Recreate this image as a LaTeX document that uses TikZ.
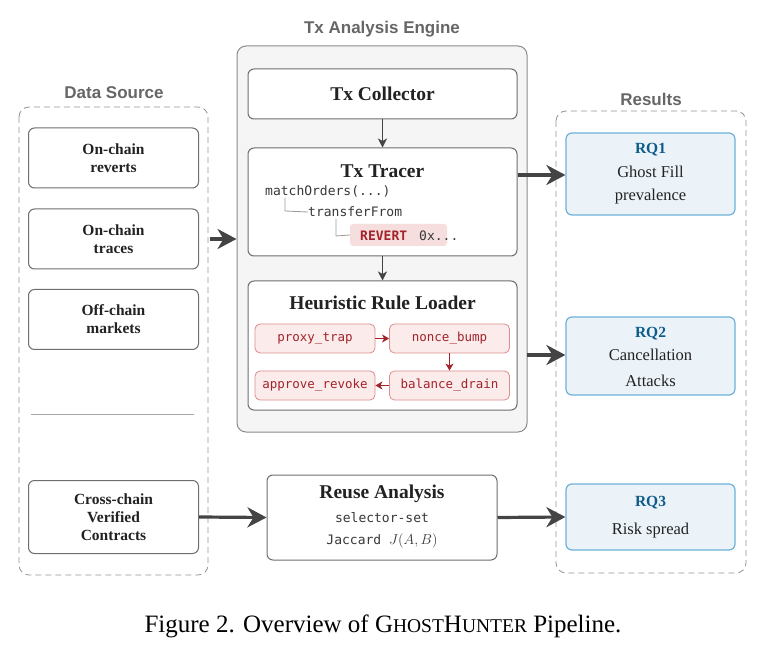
\documentclass[tikz,border=0pt]{standalone}
\usepackage{fontspec}
\setmainfont{Liberation Serif}
\setsansfont{Liberation Sans}
\setmonofont{DejaVu Sans Mono}
\usetikzlibrary{arrows.meta}
\definecolor{boxgray}{HTML}{6E6E6E}
\definecolor{titlegray}{HTML}{666666}
\definecolor{enginefill}{HTML}{F5F5F5}
\definecolor{rulefill}{HTML}{FBEBEB}
\definecolor{ruledraw}{HTML}{DE8C8C}
\definecolor{ruletext}{HTML}{A3232A}
\definecolor{revfill}{HTML}{F6DEDE}
\definecolor{rqfill}{HTML}{EBF3F8}
\definecolor{rqdraw}{HTML}{6DB1D9}
\definecolor{rqblue}{HTML}{0F5C8C}
\definecolor{arrowgray}{HTML}{444444}
\definecolor{darktext}{HTML}{222222}
\begin{document}
\begin{tikzpicture}[x=1pt,y=-1pt,
  box/.style={draw=boxgray, rounded corners=6pt, line width=1pt, fill=white, align=center, inner sep=0pt, text=darktext},
  srcbox/.style={box, minimum width=170pt, minimum height=60pt, font=\fontsize{15.5}{18}\selectfont\bfseries},
  grouptitle/.style={font=\fontsize{17}{20}\sffamily\bfseries, text=titlegray},
  groupbox/.style={draw=titlegray!70, dashed, dash pattern=on 6pt off 4pt, rounded corners=10pt, line width=0.8pt},
  rule/.style={draw=ruledraw, fill=rulefill, rounded corners=5pt, line width=0.8pt, minimum width=120pt, minimum height=29pt, inner sep=0pt, text=ruletext, font=\fontsize{12.5}{14}\ttfamily},
  rq/.style={draw=rqdraw, fill=rqfill, rounded corners=6pt, line width=1.2pt, minimum width=169pt, inner sep=0pt, align=center, text=darktext},
  bigarrow/.style={draw=arrowgray, line width=3.2pt, -{Stealth[length=19pt,width=20pt,inset=6pt]}},
  smallarrow/.style={draw=arrowgray, line width=1.4pt, -{Stealth[length=9pt,width=9pt,inset=2.5pt]}},
  rulearrow/.style={draw=ruletext, line width=1.2pt, -{Stealth[length=7pt,width=8pt,inset=2pt]}},
  treeline/.style={draw=gray!80, line width=0.8pt},
  mono/.style={font=\fontsize{13}{15}\ttfamily, text=darktext!90, inner sep=0pt}
]
\useasboundingbox (0,0) rectangle (766,652);

% ---------- Data Source ----------
\node[grouptitle] (dstitle) at (114,93) {Data Source};
\draw[groupbox] (19,107) rectangle (208,575);
\node[srcbox] (reverts) at (113.5,158) {On-chain\\reverts};
\node[srcbox] (traces) at (113.5,239) {On-chain\\traces};
\node[srcbox] (markets) at (113.5,319.5) {Off-chain\\markets};
\coordinate (sepL) at (31,414);
\coordinate (sepR) at (194,414);
\draw[line width=0.8pt, draw=gray!70] (sepL) -- (sepR);
\node[srcbox, minimum height=73pt] (cross) at (113.5,517) {Cross-chain\\Verified\\Contracts};

% ---------- Engine ----------
\node[grouptitle] (engtitle) at (382,29) {Tx Analysis Engine};
\node[draw=boxgray!80, fill=enginefill, rounded corners=9pt, line width=1pt, minimum width=290pt, minimum height=386pt, inner sep=0pt] (engine) at (382,239) {};

\node[box, minimum width=269pt, minimum height=50pt, font=\fontsize{19.5}{22}\selectfont\bfseries] (collector) at (382.5,94) {Tx Collector};

\node[box, minimum width=269pt, minimum height=108pt] (tracer) at (382.5,202) {};
\node[font=\fontsize{19.5}{22}\selectfont\bfseries, text=darktext, inner sep=0pt] (tracertitle) at (382.5,171) {Tx Tracer};
\node[mono, anchor=west] (match) at (265,191) {matchOrders(...)};
\node[mono, anchor=west] (transfer) at (308,212) {transferFrom};
\node[fill=revfill, rounded corners=3pt, minimum width=97pt, minimum height=22pt, inner sep=0pt] (revbox) at (398.5,235) {};
\node[anchor=west, inner sep=0pt, font=\fontsize{13}{15}\ttfamily\bfseries, text=ruletext] (revert) at (360,236) {REVERT};
\node[mono, anchor=west] (hex) at (419,236) {0x...};
\coordinate (t1a) at (285,198);
\coordinate (t1b) at (285,211);
\coordinate (t2a) at (336,219);
\coordinate (t2b) at (336,236);
\draw[treeline] (t1a) -- (t1b) -- (transfer.west);
\draw[treeline] (t2a) -- (t2b) -- (revbox.west);

\node[box, minimum width=269pt, minimum height=129pt] (loader) at (382.5,345.5) {};
\node[font=\fontsize{19.5}{22}\selectfont\bfseries, text=darktext, inner sep=0pt] (loadertitle) at (382.5,303) {Heuristic Rule Loader};
\node[rule] (proxy) at (315,338.5) {proxy\_trap};
\node[rule] (nonce) at (449.5,338.5) {nonce\_bump};
\node[rule] (approve) at (315,385.5) {approve\_revoke};
\node[rule] (balance) at (449.5,385.5) {balance\_drain};
\draw[rulearrow] (proxy) -- (nonce);
\draw[rulearrow] (nonce) -- (balance);
\draw[rulearrow] (balance) -- (approve);

\draw[smallarrow] (collector) -- (tracer);
\draw[smallarrow] (tracer) -- (loader);

% ---------- Reuse ----------
\node[box, minimum width=230pt, minimum height=85pt] (reuse) at (382,517.5) {};
\node[font=\fontsize{19.5}{22}\selectfont\bfseries, text=darktext, inner sep=0pt] (reusetitle) at (382,494) {Reuse Analysis};
\node[mono] (selector) at (382,518) {selector-set};
\node[mono] (jaccard) at (382,541) {Jaccard \fontsize{15.5}{17}\selectfont$J(A,B)$};

% ---------- Results ----------
\node[grouptitle] (restitle) at (651,99) {Results};
\draw[groupbox] (556,111) rectangle (746,573);
\node[rq, minimum height=82pt] (rq1) at (650.5,174) {};
\node[font=\fontsize{15.5}{17}\selectfont\bfseries, text=rqblue, inner sep=0pt] (rq1t) at (650.5,150) {RQ1};
\node[font=\fontsize{16.5}{18}\selectfont, text=darktext, inner sep=0pt] (rq1a) at (650.5,172) {Ghost Fill};
\node[font=\fontsize{16.5}{18}\selectfont, text=darktext, inner sep=0pt] (rq1b) at (650.5,197) {prevalence};

\node[rq, minimum height=78pt] (rq2) at (650.5,356) {};
\node[font=\fontsize{15.5}{17}\selectfont\bfseries, text=rqblue, inner sep=0pt] (rq2t) at (650.5,334) {RQ2};
\node[font=\fontsize{16.5}{18}\selectfont, text=darktext, inner sep=0pt] (rq2a) at (650.5,355) {Cancellation};
\node[font=\fontsize{16.5}{18}\selectfont, text=darktext, inner sep=0pt] (rq2b) at (650.5,381) {Attacks};

\node[rq, minimum height=66pt] (rq3) at (650.5,517) {};
\node[font=\fontsize{15.5}{17}\selectfont\bfseries, text=rqblue, inner sep=0pt] (rq3t) at (650.5,503) {RQ3};
\node[font=\fontsize{16.5}{18}\selectfont, text=darktext, inner sep=0pt] (rq3a) at (650.5,531) {Risk spread};

% ---------- Arrows ----------
\coordinate (dsout) at (210,239);
\draw[bigarrow] (dsout) -- (engine.west |- dsout);
\draw[bigarrow] (tracer.east |- 0,175) -- (rq1.west |- 0,175);
\coordinate (engout) at (527,355);
\draw[bigarrow] (engout) -- (rq2.west |- engout);
\draw[bigarrow] (cross.east) -- (reuse.west);
\draw[bigarrow] (reuse.east) -- (rq3.west);

% ---------- Caption ----------
\node[font=\fontsize{25}{28}\selectfont, text=black, inner sep=0pt] (caption) at (383,626) {Figure 2. Overview of G{\fontsize{19.5}{22}\selectfont HOST}H{\fontsize{19.5}{22}\selectfont UNTER} Pipeline.};
\end{tikzpicture}
\end{document}
